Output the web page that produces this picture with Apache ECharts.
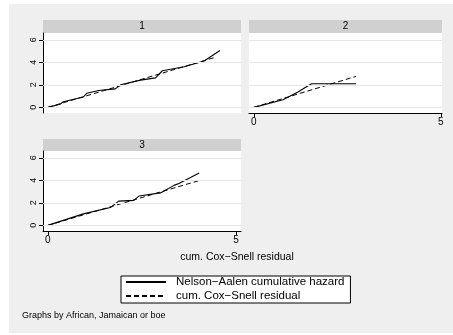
<!DOCTYPE html>
<html><head><meta charset="utf-8">
<script src="https://cdn.jsdelivr.net/npm/echarts@6/dist/echarts.min.js"></script>
<style>html,body{margin:0;padding:0;background:#fff}#c{width:453px;height:335px}</style>
</head><body><div id="c"></div>
<script>
const panelLabels = ['1', '2', '3'];
const seriesNames = ['Nelson\u2212Aalen cumulative hazard', 'cum. Cox\u2212Snell residual'];
const xTicks = [0, 5];
const yTicks = [0, 2, 4, 6];
const na1 = [[0,0],[0.32,0.27],[0.41,0.5],[0.94,0.92],[1.03,1.25],[1.35,1.5],[1.79,1.64],[1.93,2.0],[2.46,2.42],[2.86,2.62],[3.04,3.25],[3.62,3.6],[4.15,4.12],[4.57,5.05]];
const cs1 = [[0,0],[4.48,4.48]];
const na2 = [[0,0],[0.78,0.68],[1.18,1.37],[1.32,1.65],[1.54,2.1],[2.73,2.1]];
const cs2 = [[0,0],[2.73,2.75]];
const na3 = [[0,0],[0.94,1.02],[1.66,1.58],[1.88,2.15],[2.28,2.22],[2.42,2.6],[2.99,2.88],[3.35,3.55],[3.48,3.72],[4.02,4.65]];
const cs3 = [[0,0],[4.02,3.98]];
const naData = [na1, na2, na3];
const csData = [cs1, cs2, cs3];

const font = 'Liberation Sans, Arial, sans-serif';
const grids = [
  {left: 43, top: 33, width: 198, height: 80},
  {left: 249, top: 33, width: 193, height: 80},
  {left: 43, top: 151, width: 198, height: 80}
];
const showX = [false, true, true];
const showY = [true, false, true];
const xMax = [5.13, 5.03, 5.13];

const xAxes = grids.map((g, i) => ({
  type: 'value', gridIndex: i, min: -0.13, max: xMax[i],
  axisLine: {show: showX[i], onZero: false, lineStyle: {color: '#000', width: 1}},
  axisTick: {show: showX[i], length: 4, lineStyle: {color: '#000'}, customValues: xTicks},
  axisLabel: {show: showX[i], customValues: xTicks, color: '#000', fontSize: 10, fontFamily: font, margin: 4},
  splitLine: {show: false}
}));
const yAxes = grids.map((g, i) => ({
  type: 'value', gridIndex: i, min: -0.5, max: 6.6,
  axisLine: {show: showY[i], onZero: false, lineStyle: {color: '#000', width: 1}},
  axisTick: {show: showY[i], length: 4, lineStyle: {color: '#000'}, customValues: yTicks},
  axisLabel: {show: showY[i], customValues: yTicks, color: '#000', fontSize: 9, fontFamily: font, rotate: 90, margin: 5},
  splitLine: {show: false}
}));

const series = [];
grids.forEach((g, i) => {
  series.push({
    name: seriesNames[0], type: 'line', xAxisIndex: i, yAxisIndex: i, data: naData[i],
    symbol: 'none', lineStyle: {color: '#000', width: 1.1}, itemStyle: {color: '#000'}, silent: true, z: 3,
    markLine: {silent: true, symbol: 'none', label: {show: false},
      lineStyle: {color: '#e6e6e6', type: 'solid', width: 1},
      data: yTicks.map(v => ({yAxis: v}))}
  });
  series.push({
    name: seriesNames[1], type: 'line', xAxisIndex: i, yAxisIndex: i, data: csData[i],
    symbol: 'none', lineStyle: {color: '#000', width: 1, type: [5, 3]}, itemStyle: {color: '#000'}, silent: true, z: 4
  });
});

const headers = [
  {x: 43, y: 20, w: 198, h: 13},
  {x: 249, y: 20, w: 193, h: 13},
  {x: 43, y: 139, w: 198, h: 12}
];
const graphics = [
  {type: 'rect', shape: {x: 9, y: 4, width: 444, height: 329}, style: {fill: '#efefef'}, z: -10, silent: true}
];
grids.forEach((g, i) => {
  graphics.push({type: 'rect', shape: {x: g.left, y: g.top, width: g.width, height: g.height}, style: {fill: '#fff'}, z: -9, silent: true});
  const h = headers[i];
  graphics.push({type: 'rect', shape: {x: h.x, y: h.y, width: h.w, height: h.h}, style: {fill: '#d0d0d0'}, z: -9, silent: true});
  graphics.push({type: 'text', x: h.x + h.w / 2, y: h.y + h.h / 2, style: {text: panelLabels[i], fill: '#000', font: '10px ' + font, textAlign: 'center', textVerticalAlign: 'middle'}, silent: true});
});
graphics.push({type: 'text', x: 237, y: 257, style: {text: 'cum. Cox\u2212Snell residual', fill: '#000', font: '10.5px ' + font, textAlign: 'center', textVerticalAlign: 'middle'}, silent: true});
graphics.push({type: 'text', x: 22, y: 316, style: {text: 'Graphs by African, Jamaican or boe', fill: '#000', font: '9px ' + font, textAlign: 'left', textVerticalAlign: 'middle'}, silent: true});

const chart = echarts.init(document.getElementById('c'), null, {renderer: 'canvas'});
chart.setOption({
  animation: false,
  backgroundColor: '#fff',
  grid: grids.map(g => Object.assign({containLabel: false}, g)),
  xAxis: xAxes,
  yAxis: yAxes,
  series: series,
  legend: {
    data: seriesNames, orient: 'vertical', left: 121, top: 276,
    backgroundColor: '#fff', borderColor: '#000', borderWidth: 1, borderRadius: 0,
    padding: [0, 6, 1, 4], itemGap: 2, itemWidth: 40, itemHeight: 11,
    itemStyle: {opacity: 0},
    textStyle: {color: '#000', fontSize: 11.5, fontFamily: font, padding: [0, 0, 0, 5]},
    selectedMode: false
  },
  graphic: graphics
});
</script></body></html>
